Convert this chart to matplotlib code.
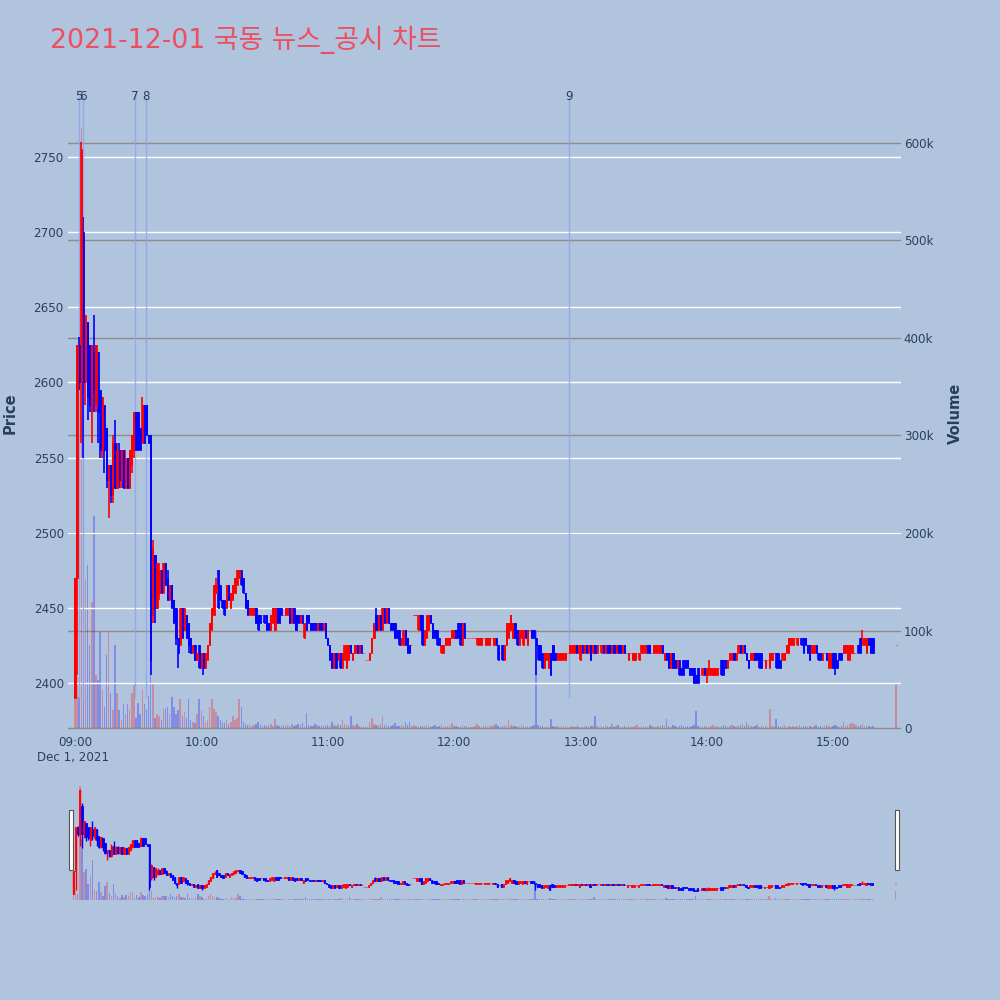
import matplotlib
matplotlib.use("Agg")
import matplotlib.pyplot as plt
import matplotlib.transforms as mtransforms
from matplotlib.patches import Rectangle
from matplotlib.ticker import FuncFormatter
import numpy as np
import pandas as pd

plt.rcParams['font.family'] = ['DejaVu Sans', 'Noto Sans CJK KR']

TITLE = "2021-12-01 국동 뉴스_공시 차트"

# ---- minute candles (09:00 .. 15:19, then 15:30 closing auction) ----
opens = [
    2390, 2470, 2625, 2600, 2700, 2600, 2640, 2625, 2580, 2620,
    2585, 2620, 2595, 2555, 2585, 2570, 2535, 2545, 2525, 2560,
    2530, 2555, 2535, 2555, 2530, 2550, 2530, 2545, 2555, 2580,
    2580, 2570, 2560, 2585, 2585, 2565, 2565, 2445, 2485, 2450,
    2460, 2475, 2460, 2480, 2470, 2455, 2465, 2455, 2450, 2430,
    2425, 2450, 2435, 2445, 2440, 2430, 2420, 2425, 2415, 2425,
    2410, 2420, 2410, 2415, 2425, 2435, 2445, 2460, 2475, 2465,
    2455, 2455, 2450, 2465, 2450, 2455, 2460, 2465, 2470, 2475,
    2470, 2460, 2455, 2445, 2445, 2445, 2450, 2445, 2445, 2445,
    2445, 2445, 2440, 2435, 2440, 2435, 2450, 2450, 2450, 2445,
    2445, 2445, 2450, 2440, 2450, 2445, 2445, 2440, 2445, 2430,
    2445, 2445, 2440, 2440, 2440, 2435, 2440, 2440, 2435, 2440,
    2430, 2425, 2420, 2410, 2420, 2415, 2420, 2410, 2415, 2410,
    2415, 2425, 2415, 2420, 2425, 2420, 2425, 2420, 2415, 2415,
    2415, 2420, 2430, 2445, 2435, 2445, 2435, 2450, 2440, 2450,
    2440, 2440, 2440, 2435, 2435, 2425, 2425, 2435, 2430, 2425,
    2425, 2445, 2445, 2435, 2445, 2445, 2425, 2430, 2435, 2445,
    2440, 2435, 2435, 2430, 2420, 2420, 2425, 2425, 2425, 2430,
    2430, 2435, 2440, 2440, 2425, 2440, 2430, 2430, 2430, 2430,
    2430, 2425, 2425, 2425, 2430, 2425, 2425, 2425, 2430, 2425,
    2430, 2425, 2420, 2425, 2415, 2425, 2430, 2435, 2430, 2440,
    2435, 2425, 2430, 2425, 2435, 2425, 2435, 2435, 2435, 2430,
    2425, 2425, 2420, 2410, 2415, 2410, 2420, 2425, 2420, 2415,
    2415, 2415, 2415, 2415, 2420, 2420, 2420, 2420, 2425, 2420,
    2415, 2425, 2420, 2425, 2420, 2425, 2420, 2425, 2420, 2425,
    2420, 2425, 2420, 2425, 2425, 2420, 2425, 2420, 2425, 2425,
    2420, 2425, 2420, 2415, 2420, 2415, 2415, 2420, 2415, 2420,
    2420, 2420, 2425, 2425, 2420, 2420, 2420, 2420, 2420, 2425,
    2415, 2420, 2420, 2410, 2420, 2415, 2410, 2415, 2410, 2415,
    2415, 2415, 2410, 2410, 2410, 2405, 2410, 2405, 2405, 2410,
    2405, 2405, 2405, 2405, 2405, 2405, 2410, 2415, 2415, 2415,
    2410, 2415, 2415, 2420, 2415, 2420, 2425, 2420, 2425, 2420,
    2415, 2415, 2415, 2420, 2420, 2420, 2420, 2415, 2410, 2415,
    2410, 2415, 2420, 2420, 2420, 2415, 2415, 2415, 2420, 2420,
    2425, 2425, 2430, 2425, 2430, 2430, 2430, 2430, 2425, 2425,
    2420, 2420, 2425, 2420, 2420, 2415, 2420, 2420, 2410, 2410,
    2420, 2420, 2415, 2420, 2420, 2420, 2420, 2415, 2415, 2420,
    2420, 2420, 2425, 2430, 2425, 2425, 2420, 2430, 2430, 2430,
    2425,
]
closes = [
    2470, 2625, 2600, 2755, 2600, 2645, 2590, 2585, 2625, 2595,
    2625, 2580, 2555, 2590, 2555, 2535, 2545, 2525, 2560, 2530,
    2555, 2535, 2555, 2530, 2550, 2530, 2555, 2565, 2580, 2555,
    2555, 2555, 2585, 2560, 2565, 2560, 2415, 2490, 2450, 2480,
    2475, 2460, 2480, 2465, 2455, 2465, 2450, 2440, 2430, 2420,
    2450, 2430, 2450, 2430, 2425, 2420, 2425, 2415, 2420, 2410,
    2420, 2410, 2420, 2425, 2440, 2450, 2465, 2465, 2450, 2455,
    2450, 2445, 2465, 2455, 2460, 2465, 2470, 2475, 2475, 2465,
    2460, 2450, 2445, 2450, 2450, 2450, 2440, 2435, 2440, 2445,
    2440, 2435, 2435, 2445, 2450, 2450, 2440, 2440, 2445, 2445,
    2450, 2450, 2440, 2450, 2440, 2435, 2440, 2445, 2440, 2440,
    2435, 2440, 2435, 2435, 2435, 2440, 2435, 2435, 2440, 2430,
    2425, 2415, 2410, 2420, 2410, 2420, 2410, 2420, 2425, 2425,
    2425, 2420, 2420, 2425, 2420, 2425, 2420, 2420, 2415, 2415,
    2420, 2430, 2440, 2435, 2445, 2435, 2450, 2440, 2450, 2440,
    2435, 2435, 2430, 2430, 2425, 2430, 2435, 2425, 2420, 2420,
    2425, 2445, 2445, 2445, 2435, 2425, 2435, 2445, 2445, 2440,
    2430, 2430, 2425, 2425, 2425, 2425, 2430, 2430, 2430, 2435,
    2435, 2430, 2430, 2425, 2440, 2430, 2430, 2430, 2430, 2430,
    2430, 2430, 2430, 2430, 2430, 2430, 2430, 2430, 2430, 2430,
    2425, 2415, 2420, 2415, 2425, 2440, 2440, 2445, 2440, 2430,
    2425, 2435, 2435, 2435, 2430, 2435, 2435, 2430, 2430, 2425,
    2415, 2415, 2410, 2420, 2420, 2420, 2405, 2415, 2415, 2420,
    2420, 2420, 2420, 2420, 2420, 2425, 2425, 2425, 2420, 2425,
    2425, 2420, 2425, 2420, 2425, 2415, 2425, 2420, 2425, 2425,
    2425, 2420, 2425, 2420, 2420, 2425, 2420, 2425, 2420, 2420,
    2425, 2420, 2420, 2420, 2420, 2420, 2420, 2420, 2420, 2425,
    2425, 2425, 2420, 2420, 2420, 2425, 2425, 2425, 2425, 2420,
    2420, 2415, 2410, 2420, 2410, 2410, 2415, 2405, 2405, 2405,
    2410, 2410, 2405, 2405, 2400, 2400, 2400, 2405, 2410, 2405,
    2410, 2410, 2410, 2410, 2410, 2410, 2410, 2405, 2405, 2410,
    2415, 2420, 2420, 2415, 2420, 2425, 2420, 2425, 2420, 2415,
    2410, 2420, 2420, 2415, 2415, 2410, 2410, 2415, 2415, 2415,
    2420, 2420, 2420, 2410, 2410, 2410, 2420, 2420, 2425, 2430,
    2430, 2430, 2430, 2430, 2430, 2425, 2420, 2425, 2420, 2415,
    2425, 2425, 2420, 2415, 2415, 2420, 2420, 2415, 2420, 2420,
    2410, 2410, 2410, 2415, 2415, 2425, 2425, 2425, 2425, 2425,
    2420, 2420, 2420, 2420, 2430, 2430, 2430, 2425, 2420, 2420,
    2425,
]
# wicks that reach beyond the body (candle index -> price)
wick_highs = {2: 2630, 3: 2760, 4: 2710, 9: 2645, 18: 2565, 19: 2575, 20: 2560,
              21: 2560, 24: 2555, 32: 2590, 37: 2495, 40: 2480, 44: 2475,
              67: 2470, 143: 2450, 207: 2445, 301: 2415, 374: 2435}
wick_lows = {1: 2405, 2: 2595, 3: 2560, 4: 2550, 5: 2585, 6: 2575, 7: 2580, 8: 2560,
             9: 2580, 10: 2580, 11: 2560, 12: 2550, 13: 2550, 14: 2540, 15: 2530,
             16: 2510, 17: 2520, 18: 2520, 21: 2530, 22: 2530, 27: 2540, 28: 2550,
             36: 2405, 37: 2440, 38: 2440, 40: 2455, 48: 2425, 49: 2410, 54: 2420,
             61: 2405, 219: 2405, 300: 2400, 361: 2405}
# traded volume per minute, in thousands of shares
volume_thousands = [
    30, 52, 32, 615, 330, 152, 167, 85, 129, 217,
    54, 49, 98, 39, 22, 75, 98, 36, 18, 85,
    36, 18, 8, 25, 14, 25, 20, 36, 44, 10,
    26, 14, 39, 25, 20, 33, 72, 46, 10, 14,
    12, 8, 20, 20, 22, 14, 32, 22, 14, 18,
    30, 12, 16, 10, 30, 8, 6, 5, 14, 30,
    18, 12, 6, 8, 22, 30, 20, 16, 12, 8,
    6, 5, 8, 4, 6, 12, 8, 10, 30, 22,
    6, 4, 3, 4, 2, 3, 4, 6, 3, 2,
    3, 2, 3, 4, 2, 9, 3, 2, 2, 3,
    2, 3, 2, 4, 2, 3, 4, 3, 5, 2,
    15, 3, 2, 2, 4, 3, 2, 2, 3, 2,
    3, 2, 6, 3, 2, 4, 3, 8, 4, 3,
    3, 12, 3, 2, 4, 2, 1, 1, 2, 1,
    6, 10, 4, 3, 3, 4, 12, 3, 4, 2,
    2, 3, 5, 2, 2, 3, 2, 6, 3, 6,
    2, 3, 2, 1, 2, 2, 2, 3, 2, 1,
    2, 3, 1, 2, 3, 1, 2, 2, 3, 5,
    2, 2, 1, 1, 3, 2, 2, 1, 1, 1,
    2, 4, 2, 1, 2, 3, 1, 2, 2, 3,
    4, 2, 1, 2, 3, 2, 8, 3, 2, 2,
    1, 2, 3, 2, 1, 2, 1, 2, 3, 100,
    3, 2, 2, 1, 2, 1, 9, 2, 1, 2,
    1, 2, 1, 2, 1, 1, 2, 1, 1, 2,
    1, 1, 2, 2, 1, 2, 2, 12, 2, 1,
    2, 1, 3, 2, 1, 4, 1, 2, 3, 1,
    1, 2, 1, 2, 1, 1, 2, 3, 1, 2,
    1, 2, 1, 3, 2, 1, 1, 2, 2, 3,
    2, 9, 2, 1, 3, 2, 1, 2, 3, 2,
    1, 2, 1, 2, 3, 17, 2, 2, 1, 2,
    2, 1, 2, 3, 1, 2, 1, 2, 3, 2,
    1, 2, 3, 2, 1, 2, 3, 4, 2, 6,
    3, 2, 1, 2, 3, 1, 2, 1, 2, 1,
    20, 2, 1, 9, 2, 1, 2, 3, 1, 2,
    1, 2, 1, 2, 3, 1, 2, 2, 1, 2,
    1, 2, 3, 1, 2, 1, 2, 3, 2, 1,
    2, 3, 2, 1, 2, 6, 2, 3, 4, 5,
    4, 3, 2, 3, 4, 2, 3, 2, 1, 2,
    45,
]

# news / disclosure markers
news_labels = ["5", "6", "7", "8", "9"]
news_times = ["09:01:54", "09:03:48", "09:28:30", "09:33:42", "12:54:42"]
news_line_floor = 2390

price_ticks = [2400, 2450, 2500, 2550, 2600, 2650, 2700, 2750]
volume_ticks = [0, 100000, 200000, 300000, 400000, 500000, 600000]
hour_labels = ["09:00", "10:00", "11:00", "12:00", "13:00", "14:00", "15:00"]

# ---- build series ----
times = pd.date_range("2021-12-01 09:00", "2021-12-01 15:19", freq="min").append(
    pd.DatetimeIndex(["2021-12-01 15:30"]))
t0 = pd.Timestamp("2021-12-01 09:00")
x = np.asarray((times - t0).total_seconds() / 60.0)
o = np.array(opens, float)
c = np.array(closes, float)
hi = np.maximum(o, c)
lo = np.minimum(o, c)
for k, v in wick_highs.items():
    hi[k] = max(hi[k], v)
for k, v in wick_lows.items():
    lo[k] = min(lo[k], v)
vol = np.array(volume_thousands, float) * 1000
up = c >= o
RED, BLUE = "#ff0000", "#0000ff"
cols = np.where(up, RED, BLUE)

news_x = [(pd.Timestamp("2021-12-01 " + t) - t0).total_seconds() / 60.0 for t in news_times]
hour_x = [(pd.Timestamp("2021-12-01 " + h) - t0).total_seconds() / 60.0 for h in hour_labels]

BG = "#b0c4de"
PLOT_BG = "#e5ecf6"
TXT = "#2a3f5f"

fig = plt.figure(figsize=(10, 10), dpi=100, facecolor=BG)

PRICE_LIM = (2368.7, 2790.6)
VOL_LIM = (-2000, 648000)


def draw_candles(axp, axv, wick_lw, body_w, edge_lw, vol_w):
    axv.bar(x, vol, width=vol_w, color=cols, alpha=0.28, linewidth=0, zorder=1)
    axp.vlines(x, lo, hi, colors=cols, linewidth=wick_lw, zorder=3)
    axp.bar(x, c - o, bottom=o, width=body_w, color=cols, edgecolor=cols,
            linewidth=edge_lw, zorder=4)


# ---- main chart ----
ax = fig.add_axes([0.068, 0.27, 0.833, 0.634])
axv = ax.twinx()
ax.set_zorder(axv.get_zorder() + 1)
ax.patch.set_visible(False)
axv.set_facecolor(PLOT_BG)

draw_candles(ax, axv, 1.2, 0.55, 0.6, 0.7)

ax.set_xlim(-3.3, 392.3)
ax.set_ylim(*PRICE_LIM)
axv.set_ylim(*VOL_LIM)

ax.set_yticks(price_ticks)
ax.set_yticklabels([str(p) for p in price_ticks])
axv.set_yticks(volume_ticks)
axv.yaxis.set_major_formatter(FuncFormatter(lambda v, _: "0" if v == 0 else f"{int(v/1000)}k"))
ax.set_xticks(hour_x)
ax.set_xticklabels(hour_labels)

ax.yaxis.grid(True, color="white", linewidth=1.0, zorder=0)
ax.set_axisbelow(True)
axv.yaxis.grid(True, color="#8c8c8c", linewidth=1.0)
axv.set_axisbelow(True)

for a in (ax, axv):
    for s in a.spines.values():
        s.set_visible(False)
    a.tick_params(length=0, labelsize=8.6, labelcolor=TXT)
ax.tick_params(axis="y", pad=3)
ax.tick_params(axis="x", pad=4)
axv.tick_params(axis="y", pad=2)

trans = mtransforms.blended_transform_factory(ax.transData, ax.transAxes)
for lab, nx in zip(news_labels, news_x):
    ax.vlines(nx, news_line_floor, PRICE_LIM[1], colors="#8ea6ee", linewidth=1.0,
              alpha=0.85, zorder=2)
    ax.text(nx, 1.0, lab, transform=trans, ha="center", va="center",
            fontsize=8.6, color=TXT, zorder=6)

fig.text(0.073, 1 - 757 / 1000, "Dec 1, 2021", ha="center", va="center",
         fontsize=8.6, color=TXT)
fig.text(0.010, 1 - 413 / 1000, "Price", rotation=90, ha="center", va="center",
         fontsize=10.5, fontweight="bold", color=TXT)
fig.text(0.955, 1 - 413 / 1000, "Volume", rotation=90, ha="center", va="center",
         fontsize=10.5, fontweight="bold", color=TXT)
fig.text(0.05, 1 - 40 / 1000, TITLE, ha="left", va="center", fontsize=19.3,
         color="#ec4f5f")

# ---- range slider ----
axs = fig.add_axes([0.072, 0.10, 0.825, 0.12])
axsv = axs.twinx()
axs.set_zorder(axsv.get_zorder() + 1)
axs.patch.set_visible(False)
axsv.set_facecolor(PLOT_BG)
draw_candles(axs, axsv, 1.0, 0.6, 0.6, 0.7)
axs.set_xlim(-0.7, 390.7)
axs.set_ylim(*PRICE_LIM)
axsv.set_ylim(*VOL_LIM)
for a in (axs, axsv):
    a.set_xticks([])
    a.set_yticks([])
    for s in a.spines.values():
        s.set_visible(False)

for hx in (0.069, 0.895):
    fig.patches.append(Rectangle((hx, 1 - 870 / 1000), 0.004, 0.06,
                                 transform=fig.transFigure, facecolor="white",
                                 edgecolor="#555555", linewidth=0.8, zorder=10))

fig.savefig("out.png", dpi=100, facecolor=BG)
